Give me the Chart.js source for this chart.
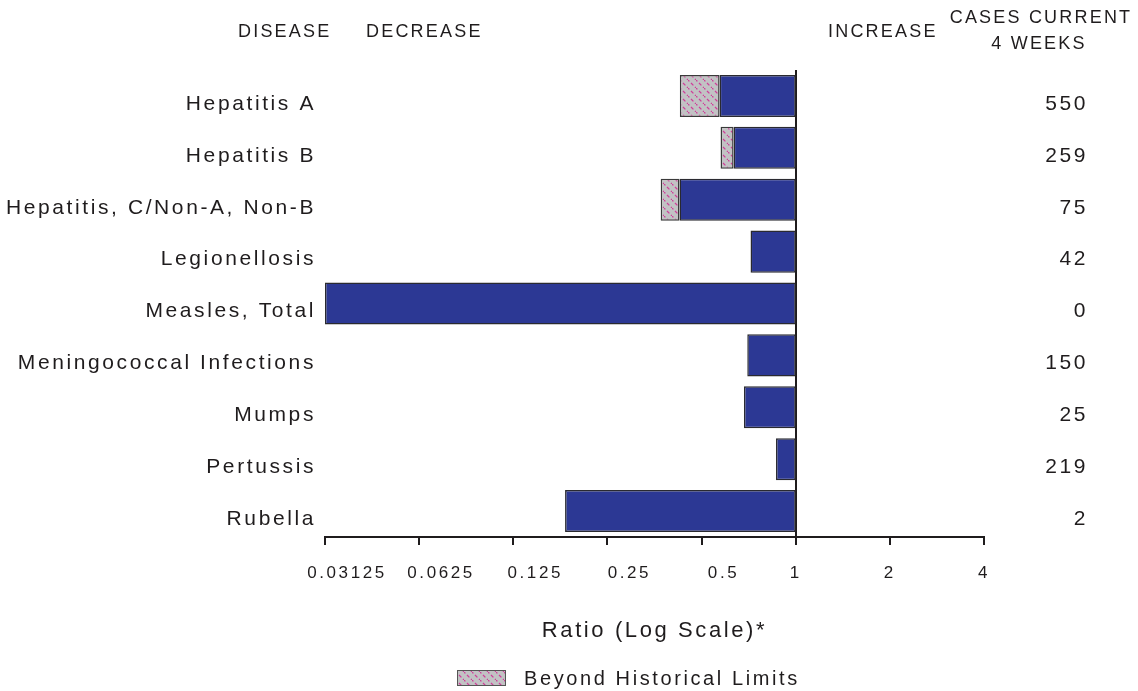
<!DOCTYPE html>
<html>
<head>
<meta charset="utf-8">
<title>Notifiable disease reports, ratio to historical data</title>
<script src="https://cdn.jsdelivr.net/npm/chart.js@4/dist/chart.umd.min.js"></script>
<style>
  html, body { margin: 0; padding: 0; background: #fff; }
  #wrap { width: 1138px; height: 691px; position: relative; }
</style>
</head>
<body>
<div id="wrap"><canvas id="chart"></canvas></div>
<script>
// Data
const diseases = [
    'Hepatitis A',
    'Hepatitis B',
    'Hepatitis, C/Non-A, Non-B',
    'Legionellosis',
    'Measles, Total',
    'Meningococcal Infections',
    'Mumps',
    'Pertussis',
    'Rubella'
];
// ratio of current 4-week total to historical mean (measles sits at the axis floor)
const ratios = [0.426, 0.575, 0.370, 0.717, 0.03125, 0.700, 0.683, 0.865, 0.183];
// ratio where the "beyond historical limits" part of the bar begins
const beyondLimitsFrom = [0.571, 0.633, 0.425, null, null, null, null, null, null];
const casesCurrent4Weeks = [550, 259, 75, 42, 0, 150, 25, 219, 2];
const ratioTicks = [0.03125, 0.0625, 0.125, 0.25, 0.5, 1, 2, 4];

const FONT = '"Liberation Sans", Arial, Helvetica, sans-serif';
const TEXT = '#1f1c1d';
const SPACING = '2.6px';
const BLUE = '#2c3894';

// grey with dashed magenta diagonals
function makeHatch() {
    const c = document.createElement('canvas');
    c.width = 8;
    c.height = 8;
    const g = c.getContext('2d');
    g.fillStyle = '#c2c2c4';
    g.fillRect(0, 0, 8, 8);
    g.strokeStyle = '#cf3f9a';
    g.lineWidth = 1.3;
    g.setLineDash([3.4, 2.257]);
    g.beginPath();
    g.moveTo(-1, -1);
    g.lineTo(9, 9);
    g.stroke();
    return g.createPattern(c, 'repeat');
}
const hatch = makeHatch();

const blueBars = ratios.map((r, i) => [beyondLimitsFrom[i] || r, 1]);
const hatchBars = ratios.map((r, i) => (beyondLimitsFrom[i] ? [r, beyondLimitsFrom[i]] : null));

// header texts, legend, and letter spacing for the wide type of the original
const extrasPlugin = {
    id: 'extras',
    beforeUpdate(chart) { chart.ctx.letterSpacing = SPACING; },
    beforeDraw(chart) { chart.ctx.letterSpacing = SPACING; },
    afterDraw(chart) {
        const ctx = chart.ctx;
        ctx.save();
        ctx.letterSpacing = '2.2px';
        ctx.fillStyle = TEXT;
        ctx.font = '18px ' + FONT;
        ctx.textBaseline = 'middle';
        ctx.textAlign = 'left';
        ctx.fillText('DISEASE', 238, 32);
        ctx.fillText('DECREASE', 366, 32);
        ctx.fillText('INCREASE', 828, 32);
        ctx.textAlign = 'center';
        ctx.fillText('CASES CURRENT', 1041, 18);
        ctx.fillText('4 WEEKS', 1039, 44);

        // legend
        ctx.fillStyle = hatch;
        ctx.fillRect(457, 670, 49, 16);
        ctx.strokeStyle = '#555';
        ctx.lineWidth = 1;
        ctx.strokeRect(457.5, 670.5, 48, 15);
        ctx.letterSpacing = SPACING;
        ctx.fillStyle = TEXT;
        ctx.font = '20px ' + FONT;
        ctx.textAlign = 'left';
        ctx.fillText('Beyond Historical Limits', 524, 679);
        ctx.restore();
    }
};

new Chart(document.getElementById('chart'), {
    type: 'bar',
    data: {
        labels: diseases,
        datasets: [
            {
                label: 'Ratio',
                data: blueBars,
                backgroundColor: BLUE,
                borderColor: '#2a2a30',
                borderWidth: 1.5,
                borderSkipped: false,
                grouped: false,
                barPercentage: 0.81,
                categoryPercentage: 1
            },
            {
                label: 'Beyond Historical Limits',
                data: hatchBars,
                backgroundColor: hatch,
                borderColor: '#3a3a3a',
                borderWidth: 1.5,
                borderSkipped: false,
                grouped: false,
                barPercentage: 0.81,
                categoryPercentage: 1
            }
        ]
    },
    options: {
        indexAxis: 'y',
        responsive: true,
        maintainAspectRatio: false,
        animation: false,
        layout: { padding: { top: 70, right: 50, left: 0, bottom: 0 } },
        plugins: {
            legend: { display: false },
            tooltip: { enabled: false }
        },
        scales: {
            x: {
                type: 'logarithmic',
                min: 0.03125,
                max: 4,
                afterBuildTicks: (s) => { s.ticks = ratioTicks.map((v) => ({ value: v })); },
                afterFit: (s) => { s.height = 154; },
                ticks: {
                    // fractional labels sit a little right of their tick in the original
                    callback: (v) => (v < 1 ? '      ' + v : String(v)),
                    font: { family: FONT, size: 17 },
                    color: TEXT,
                    padding: 18,
                    maxRotation: 0,
                    autoSkip: false
                },
                grid: {
                    drawOnChartArea: true,
                    color: (c) => (c.tick && c.tick.value === 1 ? TEXT : 'rgba(0,0,0,0)'),
                    lineWidth: 2,
                    tickColor: TEXT,
                    tickLength: 8,
                    tickWidth: 2
                },
                border: { display: true, color: TEXT, width: 2 },
                title: {
                    display: true,
                    text: 'Ratio (Log Scale)*',
                    font: { family: FONT, size: 22 },
                    color: TEXT,
                    padding: { top: 0, bottom: 47 }
                }
            },
            y: {
                afterFit: (s) => { s.width = 325; },
                ticks: {
                    font: { family: FONT, size: 21 },
                    color: TEXT,
                    padding: 9,
                    labelOffset: 8,
                    autoSkip: false
                },
                grid: { display: false, drawTicks: false },
                border: { display: false }
            },
            y2: {
                type: 'category',
                labels: casesCurrent4Weeks.map(String),
                position: 'right',
                offset: true,
                afterFit: (s) => { s.width = 104; },
                ticks: {
                    font: { family: FONT, size: 21 },
                    color: TEXT,
                    crossAlign: 'far',
                    labelOffset: 8,
                    autoSkip: false
                },
                grid: { display: false, drawTicks: false },
                border: { display: false }
            }
        }
    },
    plugins: [extrasPlugin]
});
</script>
</body>
</html>
